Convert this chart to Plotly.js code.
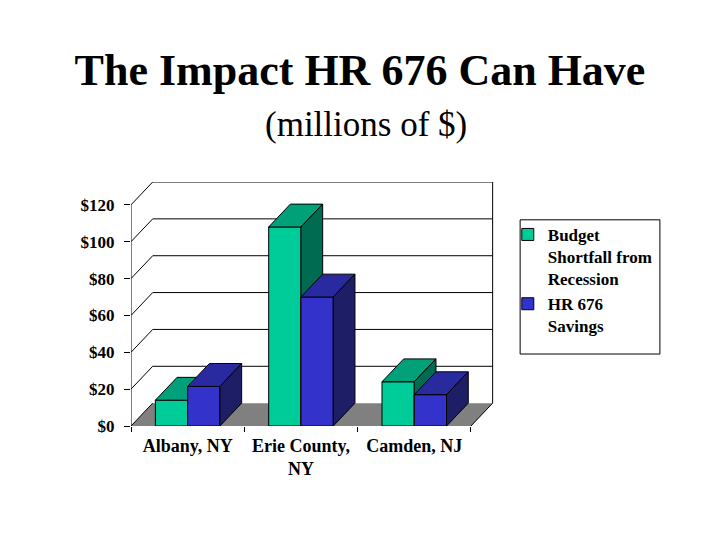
<!DOCTYPE html>
<html>
<head>
<meta charset="utf-8">
<script src="https://cdn.plot.ly/plotly-3.0.1.min.js"></script>
<style>html,body{margin:0;padding:0;background:#fff;}#chart{width:720px;height:540px;}</style>
</head>
<body>
<div id="chart"></div>
<script>
// ---- data ----
const categories = ["Albany, NY", "Erie County,<br>NY", "Camden, NJ"];
const budgetShortfall = [14, 108, 24];
const hr676Savings = [21.5, 70, 17];
const seriesNames = ["Budget<br>Shortfall from<br>Recession", "HR 676<br>Savings"];
const yTickVals = [0, 20, 40, 60, 80, 100, 120];
const yTickText = ["$0", "$20", "$40", "$60", "$80", "$100", "$120"];

// ---- geometry / style ----
const DX = 0.1915, DY = 12.4, W = 0.285;
const XMIN = -0.5, XMAX = categories.length - 0.5;
const YTOP = yTickVals[yTickVals.length - 1];
const FONT = "Liberation Serif";
const greenFront = "#00CC99", greenTop = "#00A179", greenSide = "#006B50";
const blueFront = "#3333CC", blueTop = "#2A2AA0", blueSide = "#1E1E66";
const xpos = categories.map((_, i) => i);

function polys(vals, offset, face) {
  const xs = [], ys = [];
  vals.forEach((v, i) => {
    const xl = xpos[i] + offset, xr = xl + W;
    let px, py;
    if (face === "top") { px = [xl, xr, xr + DX, xl + DX, xl]; py = [v, v, v + DY, v + DY, v]; }
    else if (face === "side") { px = [xr, xr, xr + DX, xr + DX, xr]; py = [0, v, v + DY, DY, 0]; }
    else { px = [xl, xr, xr, xl, xl]; py = [0, 0, v, v, 0]; }
    xs.push(...px, null); ys.push(...py, null);
  });
  return {x: xs, y: ys};
}
function face(vals, offset, kind, color) {
  const p = polys(vals, offset, kind);
  return {type: "scatter", mode: "lines", x: p.x, y: p.y, fill: "toself", fillcolor: color,
          line: {color: "#000", width: 1}, showlegend: false, hoverinfo: "skip"};
}

const traces = [
  {type: "bar", name: seriesNames[0], x: xpos, y: budgetShortfall, width: W, offset: -W,
   marker: {color: greenFront, line: {color: "#000", width: 1}}},
  {type: "bar", name: seriesNames[1], x: xpos, y: hr676Savings, width: W, offset: 0,
   marker: {color: blueFront, line: {color: "#000", width: 1}}},
  face(budgetShortfall, -W, "top", greenTop),
  face(budgetShortfall, -W, "side", greenSide),
  face(hr676Savings, 0, "front", blueFront),
  face(hr676Savings, 0, "top", blueTop),
  face(hr676Savings, 0, "side", blueSide)
];

// ---- walls, floor, gridlines ----
const shapes = [];
shapes.push({type: "path", xref: "x", yref: "y", layer: "below",
  path: `M${XMIN},0 L${XMAX},0 L${XMAX + DX},${DY} L${XMIN + DX},${DY} Z`,
  fillcolor: "#808080", line: {width: 0}});
const ln = (x0, y0, x1, y1) => shapes.push({type: "line", xref: "x", yref: "y", layer: "below",
  x0, y0, x1, y1, line: {color: "#000", width: 1}});
yTickVals.forEach(v => {
  if (v > 0) ln(XMIN + DX, v + DY, XMAX + DX, v + DY);
  ln(XMIN, v, XMIN + DX, v + DY);
});
ln(XMAX + DX, DY, XMAX + DX, YTOP + DY);
ln(XMAX, 0, XMAX + DX, DY);
ln(XMIN, 0, XMIN, YTOP);
// legend box
shapes.push({type: "rect", xref: "paper", yref: "paper", x0: 1.072, x1: 1.457, y0: 0.295, y1: 0.845,
  line: {color: "#000", width: 1}, fillcolor: "rgba(0,0,0,0)"});

const layout = {
  width: 720, height: 540,
  paper_bgcolor: "#fff", plot_bgcolor: "rgba(0,0,0,0)",
  margin: {l: 131, r: 226, t: 182, b: 114},
  barmode: "overlay",
  title: {text: "<b>The Impact HR 676 Can Have</b>", font: {family: FONT, size: 44, color: "#000"},
          xref: "container", x: 0.5, yref: "container", y: 0.872, yanchor: "middle"},
  annotations: [{text: "(millions of $)", xref: "paper", yref: "paper", x: 0.647, y: 1.236,
                 showarrow: false, font: {family: FONT, size: 35, color: "#000"}, yanchor: "middle"}],
  xaxis: {range: [XMIN, XMAX + DX + 0.012], tickvals: xpos, ticktext: categories, ticks: "",
          showgrid: false, zeroline: false, showline: false, ticklabelstandoff: 7,
          tickfont: {family: FONT, size: 18, color: "#000", weight: "bold"},
          minor: {tickmode: "array", tickvals: [-0.5, 0.5, 1.5, 2.5], ticks: "outside", ticklen: 5,
                  tickcolor: "#000", tickwidth: 1, showgrid: false}},
  yaxis: {range: [0, YTOP + DY], tickvals: yTickVals, ticktext: yTickText, ticks: "outside",
          ticklen: 6, tickcolor: "#000", tickwidth: 1, showgrid: false, zeroline: false, showline: false,
          ticklabelstandoff: 6, tickfont: {family: FONT, size: 17, color: "#000", weight: "bold"}},
  showlegend: true,
  legend: {x: 1.038, xanchor: "left", y: 0.857, yanchor: "top", valign: "top",
           bgcolor: "rgba(0,0,0,0)", borderwidth: 0, tracegroupgap: 1,
           font: {family: FONT, size: 17, color: "#000", weight: "bold"}},
  shapes: shapes
};

Plotly.newPlot("chart", traces, layout, {displayModeBar: false, staticPlot: true});
</script>
</body>
</html>
